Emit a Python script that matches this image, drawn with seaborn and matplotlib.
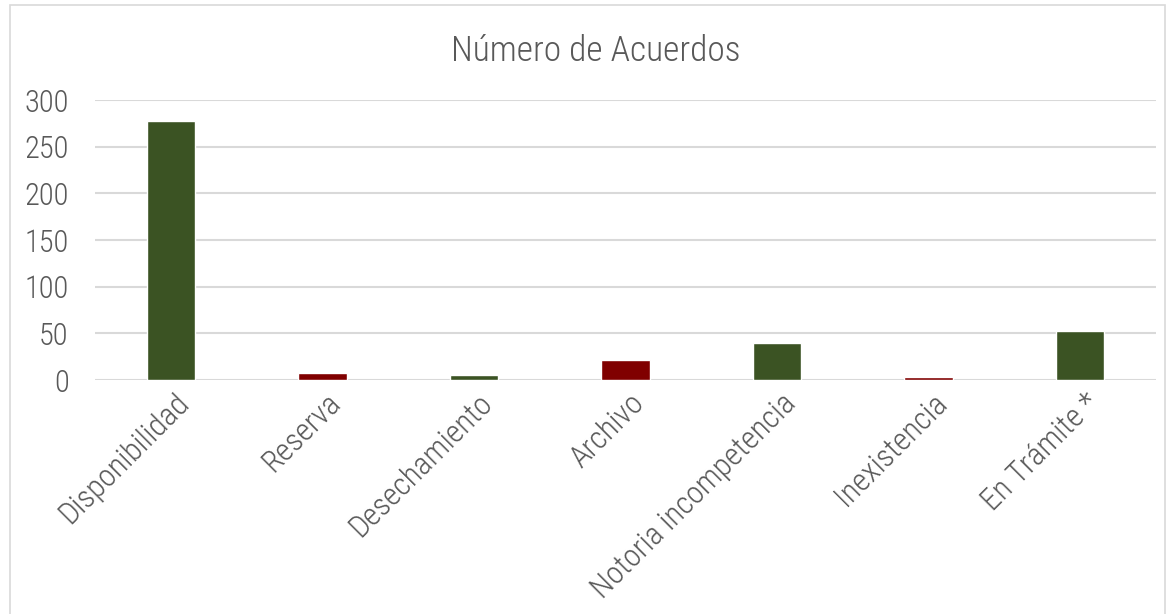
import matplotlib
matplotlib.use('Agg')
import matplotlib.pyplot as plt
import matplotlib.transforms as mtransforms
import seaborn as sns
import pandas as pd
from matplotlib.patches import Rectangle

categorias = ['Disponibilidad', 'Reserva', 'Desechamiento', 'Archivo',
              'Notoria incompetencia', 'Inexistencia', 'En Trámite *']
acuerdos = [278, 7, 5, 21, 40, 3, 52]
colores = ['#3B5323', '#800000', '#3B5323', '#800000',
           '#3B5323', '#800000', '#3B5323']
y_ticks = [0, 50, 100, 150, 200, 250, 300]

sns.set_style('white')
plt.rcParams['font.family'] = ['Roboto Condensed', 'Liberation Sans', 'DejaVu Sans']
plt.rcParams['font.weight'] = 'light'

df = pd.DataFrame({'categoria': categorias, 'acuerdos': acuerdos})

fig = plt.figure(figsize=(11.74, 6.14), dpi=100)
ax = fig.add_axes([95 / 1174, 1 - 380 / 614, (1156 - 95) / 1174, 280 / 614])

sns.barplot(data=df, x='categoria', y='acuerdos', hue='categoria',
            palette=colores, width=0.32, legend=False, ax=ax, saturation=1)

ax.set_xlim(-0.5, 6.5)
ax.set_ylim(0, 300)
ax.set_yticks(y_ticks)
ax.yaxis.grid(True, color='#D9D9D9', linewidth=1.5)
ax.set_axisbelow(True)
for s in ax.spines.values():
    s.set_visible(False)
ax.set_xlabel('')
ax.set_ylabel('')
ax.tick_params(axis='y', labelsize=22, colors='#595959', length=0, pad=19)
ax.tick_params(axis='x', labelsize=22.5, colors='#595959', length=0, pad=6)
plt.setp(ax.get_xticklabels(), rotation=45, ha='right', rotation_mode='anchor')
# small nudge of the x labels to the right, like the original
offset = mtransforms.ScaledTranslation(4 / 100, 0, fig.dpi_scale_trans)
for lbl in ax.get_xticklabels():
    lbl.set_transform(lbl.get_transform() + offset)

fig.text(596 / 1174, 1 - 51 / 614, 'Número de Acuerdos', ha='center', va='center',
         fontsize=25.5, color='#595959')

fig.patches.append(Rectangle((10 / 1174, -0.05), (1165 - 10) / 1174, 1.05 - 5 / 614,
                             transform=fig.transFigure, fill=False,
                             edgecolor='#D9D9D9', linewidth=1.2))

fig.savefig('out.png', dpi=100)
